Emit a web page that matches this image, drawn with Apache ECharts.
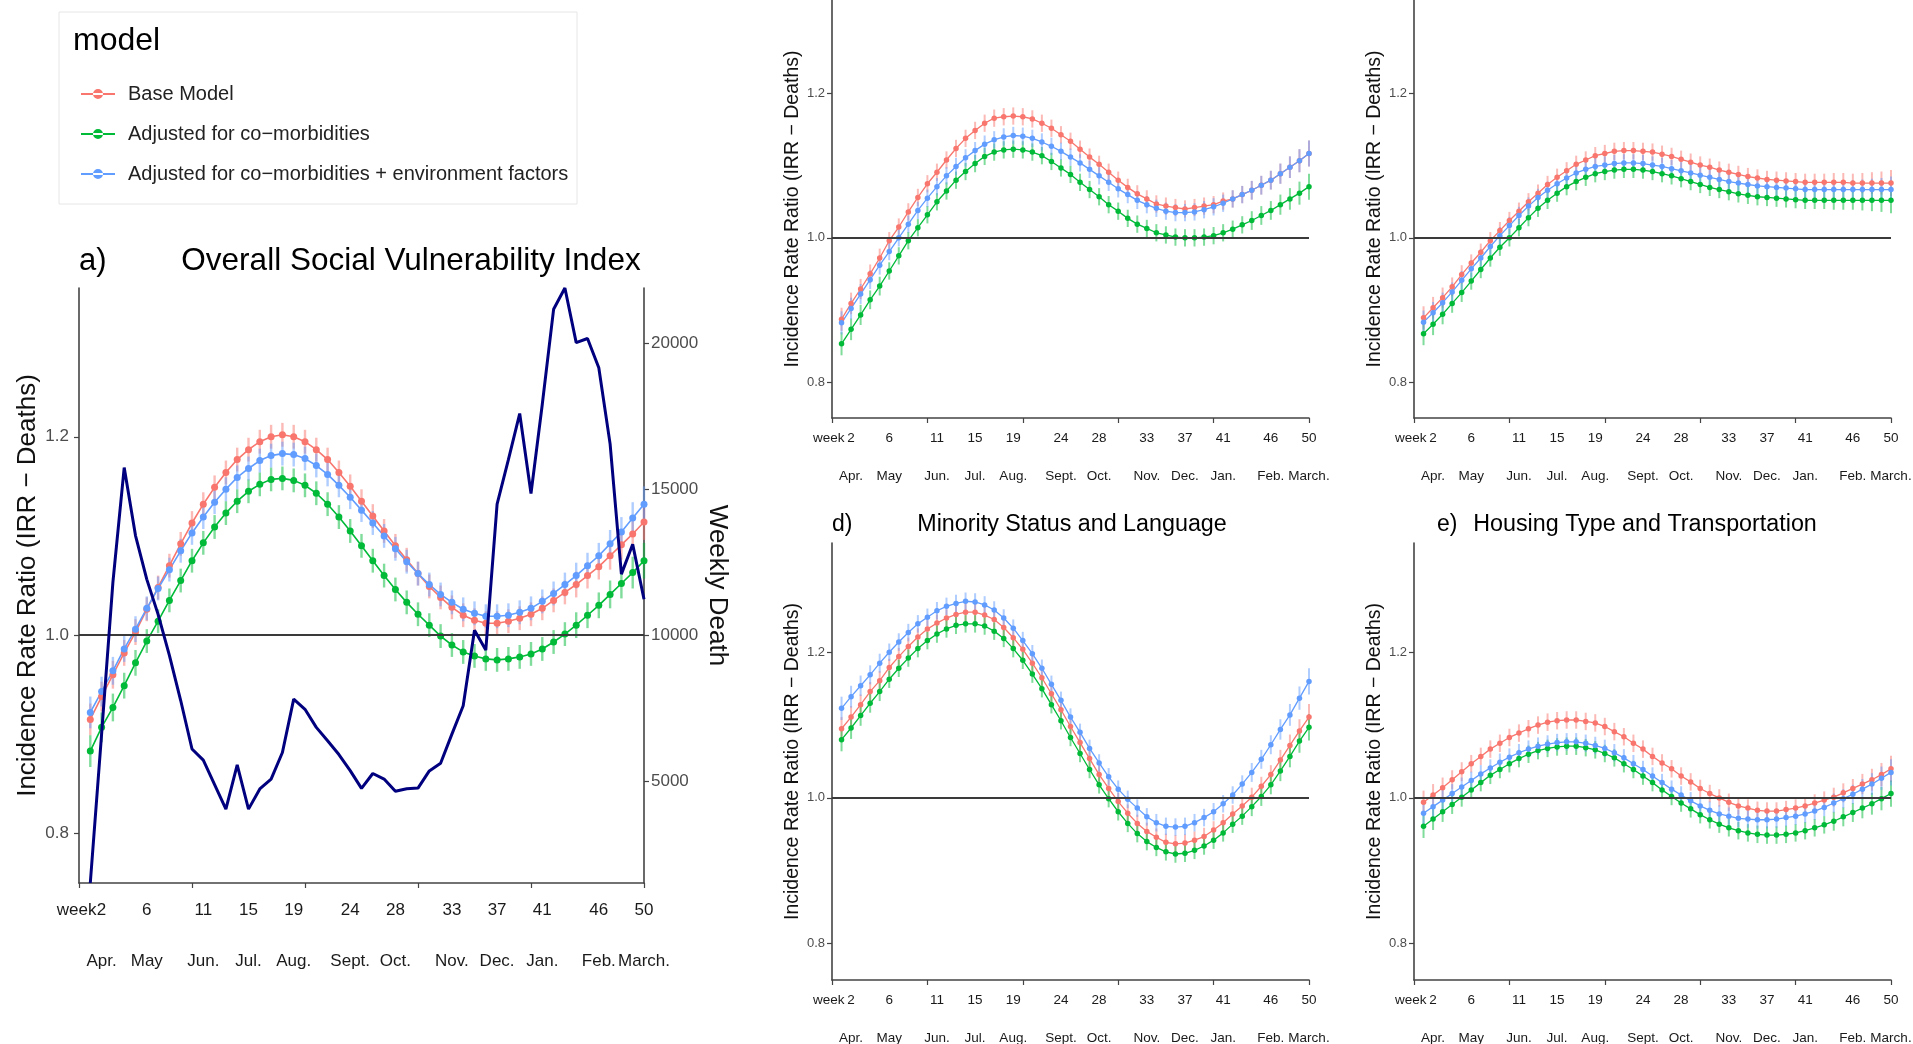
<!DOCTYPE html>
<html><head><meta charset="utf-8">
<script src="https://cdn.jsdelivr.net/npm/echarts@6/dist/echarts.min.js"></script>
<style>html,body{margin:0;padding:0;background:#fff}#chart{width:1913px;height:1044px}</style>
</head><body><div id="chart"></div>
<script>
// ---------- data ----------
const weeks = [1,2,3,4,5,6,7,8,9,10,11,12,13,14,15,16,17,18,19,20,21,22,23,24,25,26,27,28,29,30,31,32,33,34,35,36,37,38,39,40,41,42,43,44,45,46,47,48,49,50];
const weekTicks = [2,6,11,15,19,24,28,33,37,41,46,50];
const monthLabels = ['Apr.','May','Jun.','Jul.','Aug.','Sept.','Oct.','Nov.','Dec.','Jan.','Feb.','March.'];
const xAxisBreaks = [0,10,20,30,40,50];
const irrTicks = [0.8,1.0,1.2];
const deathTicks = [5000,10000,15000,20000];
const modelNames = ['Base Model','Adjusted for co\u2212morbidities','Adjusted for co\u2212morbidities + environment factors'];

// weekly deaths (panel a, right axis)
const weeklyDeaths = [1500,6600,11800,15730,13400,11900,10700,9300,7750,6090,5710,4870,4030,5550,4030,4720,5060,5970,7800,7450,6830,6370,5900,5350,4740,5250,5060,4640,4730,4750,5340,5600,6600,7570,10160,9480,14480,16000,17580,14840,17900,21150,21880,20010,20150,19150,16540,12080,13100,11220];

// half width of the confidence bars per week
const ciHalf = [0.016,0.015,0.014,0.013,0.013,0.012,0.012,0.012,0.012,0.012,0.012,0.012,0.012,0.012,0.012,0.012,0.012,0.012,0.012,0.012,0.012,0.012,0.012,0.012,0.012,0.012,0.012,0.012,0.012,0.012,0.012,0.012,0.012,0.012,0.012,0.012,0.012,0.012,0.012,0.012,0.012,0.012,0.012,0.013,0.013,0.013,0.014,0.015,0.016,0.018];

// a) Overall Social Vulnerability Index
const baseA = [0.915,0.938,0.960,0.982,1.003,1.026,1.048,1.070,1.092,1.113,1.132,1.149,1.164,1.177,1.187,1.195,1.200,1.202,1.200,1.195,1.187,1.177,1.164,1.150,1.135,1.120,1.105,1.090,1.076,1.062,1.049,1.038,1.028,1.020,1.015,1.012,1.012,1.014,1.017,1.021,1.027,1.035,1.043,1.051,1.060,1.069,1.080,1.091,1.102,1.114];
const comorbA = [0.883,0.907,0.927,0.949,0.972,0.994,1.014,1.035,1.055,1.075,1.093,1.109,1.123,1.135,1.145,1.152,1.157,1.158,1.156,1.151,1.143,1.132,1.119,1.105,1.090,1.075,1.060,1.046,1.033,1.021,1.010,0.999,0.990,0.983,0.979,0.976,0.975,0.976,0.978,0.981,0.986,0.993,1.001,1.010,1.020,1.030,1.041,1.052,1.063,1.075];
const envA = [0.922,0.943,0.964,0.986,1.006,1.027,1.047,1.066,1.085,1.103,1.119,1.134,1.147,1.159,1.168,1.176,1.181,1.183,1.182,1.178,1.171,1.162,1.151,1.139,1.126,1.113,1.100,1.087,1.074,1.062,1.051,1.041,1.033,1.026,1.022,1.019,1.019,1.020,1.023,1.027,1.034,1.042,1.051,1.060,1.070,1.080,1.092,1.104,1.118,1.132];

// b) (top middle)
const baseB = [0.887,0.909,0.929,0.950,0.972,0.996,1.015,1.036,1.056,1.075,1.091,1.108,1.124,1.138,1.149,1.159,1.166,1.168,1.169,1.168,1.165,1.159,1.152,1.143,1.134,1.123,1.112,1.102,1.091,1.080,1.070,1.061,1.054,1.047,1.044,1.042,1.040,1.042,1.044,1.046,1.051,1.054,1.060,1.066,1.073,1.080,1.089,1.098,1.107,1.117];
const comorbB = [0.853,0.873,0.893,0.914,0.933,0.954,0.975,0.996,1.014,1.032,1.050,1.065,1.080,1.092,1.103,1.113,1.119,1.122,1.123,1.122,1.119,1.114,1.106,1.097,1.088,1.077,1.067,1.057,1.046,1.037,1.027,1.019,1.013,1.007,1.004,1.001,1.000,1.000,1.001,1.003,1.007,1.012,1.018,1.024,1.031,1.038,1.046,1.054,1.062,1.071];
const envB = [0.882,0.902,0.922,0.942,0.962,0.981,1.000,1.019,1.038,1.055,1.071,1.086,1.099,1.111,1.121,1.130,1.136,1.140,1.142,1.141,1.138,1.133,1.127,1.120,1.112,1.104,1.095,1.086,1.077,1.068,1.060,1.052,1.046,1.041,1.037,1.035,1.035,1.036,1.039,1.043,1.048,1.054,1.060,1.066,1.073,1.080,1.089,1.098,1.107,1.117];

// c) (top right)
const baseC = [0.889,0.903,0.917,0.932,0.949,0.965,0.980,0.996,1.010,1.024,1.037,1.050,1.062,1.074,1.084,1.093,1.102,1.108,1.114,1.117,1.120,1.121,1.121,1.120,1.119,1.116,1.113,1.109,1.105,1.101,1.098,1.094,1.091,1.088,1.085,1.083,1.081,1.080,1.079,1.078,1.077,1.077,1.077,1.077,1.077,1.076,1.076,1.076,1.076,1.076];
const comorbC = [0.867,0.880,0.894,0.909,0.924,0.940,0.956,0.972,0.987,1.000,1.014,1.028,1.041,1.052,1.062,1.071,1.078,1.084,1.089,1.092,1.094,1.095,1.095,1.094,1.092,1.089,1.086,1.082,1.078,1.074,1.070,1.067,1.064,1.061,1.059,1.057,1.056,1.055,1.054,1.053,1.052,1.052,1.052,1.052,1.052,1.052,1.052,1.052,1.052,1.052];
const envC = [0.883,0.896,0.910,0.925,0.941,0.957,0.972,0.988,1.003,1.017,1.031,1.044,1.056,1.066,1.075,1.083,1.090,1.095,1.099,1.101,1.103,1.104,1.104,1.103,1.101,1.099,1.096,1.093,1.090,1.087,1.084,1.081,1.078,1.076,1.074,1.072,1.071,1.070,1.069,1.068,1.067,1.067,1.067,1.067,1.067,1.067,1.067,1.067,1.067,1.067];

// d) Minority Status and Language
const baseD = [1.095,1.111,1.128,1.146,1.161,1.179,1.194,1.208,1.221,1.232,1.240,1.247,1.252,1.255,1.255,1.251,1.245,1.234,1.220,1.204,1.185,1.165,1.143,1.121,1.098,1.076,1.054,1.032,1.013,0.995,0.979,0.965,0.954,0.946,0.939,0.937,0.938,0.942,0.947,0.956,0.966,0.978,0.989,1.001,1.016,1.032,1.052,1.072,1.092,1.111];
const comorbD = [1.080,1.096,1.113,1.130,1.146,1.163,1.178,1.192,1.205,1.216,1.225,1.232,1.237,1.239,1.239,1.236,1.229,1.219,1.205,1.189,1.170,1.150,1.128,1.106,1.083,1.061,1.039,1.018,0.999,0.981,0.965,0.951,0.940,0.932,0.926,0.923,0.924,0.928,0.934,0.942,0.952,0.964,0.975,0.988,1.002,1.018,1.037,1.057,1.078,1.097];
const envD = [1.123,1.139,1.154,1.169,1.185,1.200,1.214,1.227,1.239,1.248,1.257,1.263,1.267,1.270,1.269,1.265,1.258,1.247,1.233,1.216,1.198,1.178,1.156,1.134,1.111,1.090,1.068,1.048,1.029,1.012,0.998,0.986,0.974,0.966,0.961,0.960,0.961,0.966,0.973,0.981,0.992,1.004,1.019,1.035,1.053,1.073,1.094,1.114,1.137,1.160];

// e) Housing Type and Transportation
const baseE = [0.994,1.004,1.014,1.025,1.036,1.047,1.057,1.067,1.075,1.083,1.089,1.095,1.100,1.104,1.106,1.107,1.107,1.105,1.103,1.098,1.091,1.084,1.075,1.067,1.057,1.048,1.040,1.030,1.022,1.013,1.006,1.000,0.994,0.989,0.986,0.983,0.982,0.982,0.984,0.986,0.989,0.993,0.997,1.001,1.007,1.013,1.019,1.025,1.032,1.040];
const comorbE = [0.961,0.971,0.981,0.991,1.001,1.011,1.021,1.031,1.039,1.047,1.054,1.060,1.065,1.068,1.070,1.071,1.071,1.069,1.066,1.061,1.055,1.047,1.039,1.030,1.021,1.011,1.002,0.993,0.985,0.977,0.970,0.964,0.959,0.955,0.952,0.950,0.949,0.949,0.950,0.952,0.955,0.959,0.963,0.968,0.974,0.980,0.986,0.992,0.999,1.006];
const envE = [0.979,0.988,0.997,1.006,1.015,1.024,1.033,1.041,1.049,1.056,1.062,1.067,1.071,1.074,1.076,1.077,1.077,1.075,1.072,1.068,1.062,1.055,1.047,1.039,1.030,1.021,1.012,1.004,0.996,0.989,0.983,0.978,0.975,0.972,0.971,0.970,0.970,0.971,0.973,0.975,0.978,0.982,0.987,0.993,0.999,1.005,1.012,1.019,1.027,1.035];

// ---------- chart ----------
const FONT = '"Liberation Sans", Arial, Helvetica, sans-serif';
const modelColors = ['#F8766D','#00BA38','#619CFF'];
const AXIS = '#444';

const panels = [
  {grid:{left:79, top:288, width:565, height:595}, yMax:1.35, big:true, vals:[baseA, comorbA, envA]},
  {grid:{left:832, top:0, width:477, height:418}, yMax:1.33, vals:[baseB, comorbB, envB]},
  {grid:{left:1414, top:0, width:477, height:418}, yMax:1.33, vals:[baseC, comorbC, envC]},
  {grid:{left:832, top:543, width:477, height:437}, yMax:1.35, vals:[baseD, comorbD, envD]},
  {grid:{left:1414, top:543, width:477, height:437}, yMax:1.35, vals:[baseE, comorbE, envE]}
];

const grid = [], xAxis = [], yAxis = [], series = [];

function labelAxis(pi, values, fmt, fs, margin, align) {
  return {
    type:'value', gridIndex:pi, min:0, max:50, position:'bottom', offset:0,
    axisLine:{show:false}, axisTick:{show:false}, splitLine:{show:false},
    axisLabel:{customValues:values, formatter:fmt, showMinLabel:true, showMaxLabel:true, hideOverlap:false,
      align:align || 'center',
      fontSize:fs, color:'#1a1a1a', margin:margin, fontFamily:FONT}
  };
}

panels.forEach((p, pi) => {
  grid.push(Object.assign({containLabel:false, outerBoundsMode:'none'}, p.grid));
  const fs = p.big ? 17 : 13.5;
  const m1 = p.big ? 19 : 13, m2 = p.big ? 70 : 51;
  const xi = xAxis.length;
  xAxis.push({
    type:'value', gridIndex:pi, min:0, max:50, position:'bottom',
    axisLine:{show:true, onZero:false, lineStyle:{color:AXIS, width:1.6}},
    axisTick:{show:true, customValues:xAxisBreaks, length:5, lineStyle:{color:AXIS, width:1.2}},
    splitLine:{show:false},
    axisLabel:{customValues:weekTicks, formatter:v => String(v), showMinLabel:true, showMaxLabel:true,
      hideOverlap:false, fontSize:fs, color:'#1a1a1a', margin:m1, fontFamily:FONT}
  });
  xAxis.push(labelAxis(pi, weekTicks, v => monthLabels[weekTicks.indexOf(v)], fs, m2));
  xAxis.push(labelAxis(pi, [p.big ? 1.55 : 1.3], () => 'week', fs, m1, 'right'));
  const yi = yAxis.length;
  yAxis.push({
    type:'value', gridIndex:pi, min:0.75, max:p.yMax, position:'left',
    axisLine:{show:true, onZero:false, lineStyle:{color:AXIS, width:1.6}},
    axisTick:{show:true, customValues:irrTicks, length:5, lineStyle:{color:AXIS, width:1.2}},
    splitLine:{show:false},
    axisLabel:{customValues:irrTicks, formatter:v => v.toFixed(1), fontSize:p.big ? 17 : 13,
      color:'#4d4d4d', margin:p.big ? 10 : 7, fontFamily:FONT},
    name:'Incidence Rate Ratio (IRR \u2212 Deaths)', nameLocation:'middle', nameRotate:90,
    nameGap:p.big ? 38 : 28,
    nameTextStyle:{fontSize:p.big ? 26 : 19.5, color:'#111', fontFamily:FONT}
  });
  let yiRight = null;
  if (p.big) {
    yiRight = yAxis.length;
    yAxis.push({
      type:'value', gridIndex:pi, min:1500, max:21880, position:'right',
      axisLine:{show:true, onZero:false, lineStyle:{color:AXIS, width:1.6}},
      axisTick:{show:true, customValues:deathTicks, length:5, lineStyle:{color:AXIS, width:1.2}},
      splitLine:{show:false},
      axisLabel:{customValues:deathTicks, formatter:v => String(v), fontSize:17, color:'#4d4d4d', margin:7, fontFamily:FONT},
      name:'Weekly Death', nameLocation:'middle', nameRotate:-90, nameGap:60,
      nameTextStyle:{fontSize:26, color:'#111', fontFamily:FONT}
    });
  }
  // lines + points
  p.vals.forEach((vals, mi) => {
    const s = {
      type:'line', name:modelNames[mi], xAxisIndex:xi, yAxisIndex:yi,
      data:weeks.map((w, i) => [w, vals[i]]),
      symbol:'circle', symbolSize:p.big ? 7 : 5.5, showSymbol:true,
      lineStyle:{color:modelColors[mi], width:p.big ? 1.6 : 1.3},
      itemStyle:{color:modelColors[mi]},
      z:3, animation:false, silent:true
    };
    if (mi === 0) {
      s.markLine = {silent:true, symbol:'none', label:{show:false}, animation:false,
        lineStyle:{color:'#3a3a3a', width:1.8, type:'solid'}, data:[{yAxis:1}]};
    }
    series.push(s);
  });
  // confidence bars
  p.vals.forEach((vals, mi) => {
    const col = modelColors[mi];
    const lw = p.big ? 2.4 : 2;
    series.push({
      type:'custom', name:modelNames[mi], xAxisIndex:xi, yAxisIndex:yi,
      data:weeks.map((w, i) => [w, vals[i] - ciHalf[i], vals[i] + ciHalf[i]]),
      encode:{x:0, y:[1,2]},
      itemStyle:{color:col},
      renderItem:(params, api) => {
        const a = api.coord([api.value(0), api.value(1)]);
        const b = api.coord([api.value(0), api.value(2)]);
        return {type:'line', shape:{x1:a[0], y1:a[1], x2:b[0], y2:b[1]},
          style:{stroke:col, lineWidth:lw, opacity:0.5}};
      },
      z:2, animation:false, silent:true
    });
  });
  if (p.big) {
    series.push({
      type:'line', name:'Weekly Death', xAxisIndex:xi, yAxisIndex:yiRight,
      data:weeks.map((w, i) => [w, weeklyDeaths[i]]),
      symbol:'none', lineStyle:{color:'#00007F', width:3}, z:5, clip:true,
      animation:false, silent:true
    });
  }
});

function txt(x, y, text, size, align) {
  return {type:'text', x:x, y:y, silent:true,
    style:{text:text, font:size + 'px ' + FONT, fill:'#000',
      textAlign:align || 'left', align:align || 'left',
      textVerticalAlign:'middle', verticalAlign:'middle'}};
}

const option = {
  animation:false,
  backgroundColor:'#fff',
  textStyle:{fontFamily:FONT},
  grid:grid, xAxis:xAxis, yAxis:yAxis, series:series,
  legend:{
    orient:'vertical', left:76, top:79, itemWidth:34, itemHeight:12, itemGap:20,
    icon:'path://M0,5L34,5L34,7L0,7Z M12,6a5,5 0 1,0 10,0a5,5 0 1,0 -10,0Z',
    data:modelNames,
    textStyle:{fontSize:20, color:'#222', fontFamily:FONT, padding:[0,0,0,8]}
  },
  graphic:[
    {type:'rect', shape:{x:59, y:12, width:518, height:192}, style:{fill:'#fff', stroke:'#e6e6e6', lineWidth:1}, z:0, silent:true},
    txt(73, 41, 'model', 32),
    txt(79, 261, 'a)', 31),
    txt(411, 261, 'Overall Social Vulnerability Index', 31.5, 'center'),
    txt(832, 525, 'd)', 23),
    txt(1072, 525, 'Minority Status and Language', 23.3, 'center'),
    txt(1437, 525, 'e)', 23),
    txt(1645, 525, 'Housing Type and Transportation', 23.3, 'center')
  ]
};

const chart = echarts.init(document.getElementById('chart'), null, {renderer:'canvas'});
chart.setOption(option);
</script></body></html>
